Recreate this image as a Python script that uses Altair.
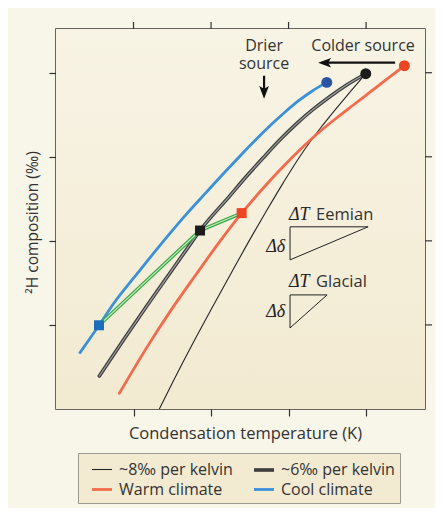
import altair as alt
import pandas as pd

# ---------------- data ----------------
# legend entries (column-major order in the legend grid)
series_names = ["~8‰ per kelvin", "Warm climate", "~6‰ per kelvin", "Cool climate"]
series_colors = ["#262626", "#f26b4c", "#3d3d3d", "#3b91d9"]
series_widths = [1.1, 2.8, 3.6, 2.8]

thin_x = [1.333, 1.520, 1.766, 2.022, 2.259, 2.548, 2.710, 2.929, 3.146, 3.281, 3.412, 3.532, 3.746, 3.996]
thin_y = [0.000, 0.345, 0.782, 1.218, 1.615, 2.092, 2.349, 2.687, 3.004, 3.182, 3.342, 3.480, 3.718, 3.988]
gray_x = [0.559, 0.870, 1.166, 1.468, 1.742, 1.858, 2.234, 2.455, 2.670, 2.889, 3.111, 3.312, 3.535, 3.755, 3.996]
gray_y = [0.393, 0.821, 1.218, 1.615, 1.973, 2.123, 2.527, 2.765, 2.985, 3.202, 3.401, 3.560, 3.718, 3.857, 3.988]
red_x = [0.817, 1.178, 1.486, 1.818, 2.097, 2.395, 2.712, 2.928, 3.160, 3.430, 3.631, 3.840, 4.058, 4.276, 4.494]
red_y = [0.187, 0.742, 1.179, 1.615, 1.973, 2.330, 2.667, 2.881, 3.095, 3.321, 3.470, 3.619, 3.774, 3.929, 4.083]
blue_x = [0.310, 0.555, 0.746, 1.052, 1.400, 1.694, 1.929, 2.146, 2.368, 2.577, 2.774, 2.945, 3.130, 3.311, 3.493]
blue_y = [0.670, 0.996, 1.258, 1.615, 2.012, 2.330, 2.568, 2.786, 3.004, 3.202, 3.381, 3.524, 3.667, 3.786, 3.885]

green_x = [0.555, 1.858, 2.395]
green_y = [0.996, 2.123, 2.330]

dot_x = [3.493, 3.996, 4.494]
dot_y = [3.885, 3.988, 4.083]
dot_c = ["#2b54a6", "#1c1c1c", "#ee4424"]

sq_x = [0.555, 1.858, 2.395]
sq_y = [0.996, 2.123, 2.330]
sq_c = ["#1a6db6", "#1c1c1c", "#ee4424"]

eem_x = [3.019, 4.026, 3.019, 3.019]
eem_y = [2.167, 2.167, 1.774, 2.167]
gla_x = [3.019, 3.497, 3.019, 3.019]
gla_y = [1.357, 1.357, 0.964, 1.357]

center_text = ["Drier", "source", "Colder source"]
center_x = [2.684, 2.684, 3.961]
center_y = [4.322, 4.102, 4.321]
left_text = ["Eemian", "Glacial"]
left_x = [3.355, 3.355]
left_y = [2.31, 1.512]

dt_text = ["ΔT", "ΔT"]
dt_x = [3.006, 3.006]
dt_y = [2.31, 1.512]
dd_text = ["Δδ", "Δδ"]
dd_x = [2.955, 2.955]
dd_y = [1.929, 1.155]

arrow_x = [4.374, 2.684]
arrow_x2 = [3.46, 2.684]
arrow_y = [4.119, 3.964]
arrow_y2 = [4.119, 3.77]
head_x = [3.381, 2.684]
head_y = [4.119, 3.690]
head_shape = ["M0,0L1.6,-0.6L1.25,0L1.6,0.6Z", "M0,0L-0.6,-1.6L0,-1.25L0.6,-1.6Z"]

x_ticks = [1, 2, 3, 4]
y_ticks = [1, 2, 3, 4]
X_DOM = [0, 4.76]
Y_DOM = [0, 4.52]

W, H = 369, 380
FONT = "Open Sans"
TXT = "#333333"
FS = 16.5


def frame(xs, ys, name):
    return pd.DataFrame({"x": xs, "y": ys, "series": name, "order": list(range(len(xs)))})


curves = pd.concat([
    frame(thin_x, thin_y, "~8‰ per kelvin"),
    frame(gray_x, gray_y, "~6‰ per kelvin"),
    frame(red_x, red_y, "Warm climate"),
    frame(blue_x, blue_y, "Cool climate"),
])
green = frame(green_x, green_y, "green")
tris = pd.concat([frame(eem_x, eem_y, "eem"), frame(gla_x, gla_y, "gla")])

xs = alt.Scale(domain=X_DOM, nice=False, zero=False)
ys = alt.Scale(domain=Y_DOM, nice=False, zero=False)
XN = alt.X("x:Q", scale=xs, axis=None)
YN = alt.Y("y:Q", scale=ys, axis=None)

tick_kw = dict(labels=False, ticks=True, tickSize=7, tickColor="#333",
               tickWidth=1.2, domain=False, grid=False)

leg = alt.Legend(title=None, orient="none", legendX=22, legendY=424, columns=2,
                 symbolType="stroke", symbolSize=400, symbolOffset=7, labelOffset=5,
                 labelFont=FONT, labelFontSize=16, labelColor=TXT,
                 fillColor="#f2ead1", strokeColor="#9a9a90", padding=5,
                 rowPadding=0, columnPadding=12, labelLimit=250)

bg = alt.Chart(pd.DataFrame({"a": [0]})).mark_rect(
    color=alt.Gradient(gradient="linear",
                       stops=[alt.GradientStop(color="#f8f4e5", offset=0),
                              alt.GradientStop(color="#f2ead1", offset=1)],
                       x1=0, x2=0, y1=0, y2=1)
).encode(x=alt.value(0), x2=alt.value(W), y=alt.value(0), y2=alt.value(H))

curve_layer = alt.Chart(curves).mark_line(interpolate="monotone", strokeCap="round", clip=True).encode(
    x=alt.X("x:Q", scale=xs, axis=alt.Axis(
        orient="bottom", values=x_ticks, title="Condensation temperature (K)",
        titleFont=FONT, titleFontSize=FS, titleFontWeight="normal",
        titleColor=TXT, titleX=189, titleY=24, titleBaseline="middle", **tick_kw)),
    y=alt.Y("y:Q", scale=ys, axis=alt.Axis(
        orient="left", values=y_ticks, title="²H composition (‰)",
        titleFont=FONT, titleFontSize=15.6, titleFontWeight="normal",
        titleColor=TXT, titleX=-24, titleY=193, titleBaseline="middle", **tick_kw)),
    color=alt.Color("series:N", scale=alt.Scale(domain=series_names, range=series_colors), legend=leg),
    strokeWidth=alt.StrokeWidth("series:N", scale=alt.Scale(type="ordinal", domain=series_names,
                                                            range=series_widths), legend=leg),
    order="order:Q",
    detail="series:N",
)

inner_layer = alt.Chart(frame(gray_x, gray_y, "inner")).mark_line(
    interpolate="monotone", strokeCap="round", color="#a0a0a0", strokeWidth=1.2).encode(
    x=XN, y=YN, order="order:Q")

top_ticks = alt.Chart(pd.DataFrame({"v": x_ticks})).mark_rule(color="#333", strokeWidth=1.2).encode(
    x=alt.X("v:Q", scale=xs, axis=None), y=alt.value(-7), y2=alt.value(0))
right_ticks = alt.Chart(pd.DataFrame({"v": y_ticks})).mark_rule(color="#333", strokeWidth=1.2).encode(
    y=alt.Y("v:Q", scale=ys, axis=None), x=alt.value(W), x2=alt.value(W + 7))

green_outer = alt.Chart(green).mark_line(color="#3aa84a", strokeWidth=3.6).encode(x=XN, y=YN, order="order:Q")
green_inner = alt.Chart(green).mark_line(color="#c3ebbd", strokeWidth=1.1).encode(x=XN, y=YN, order="order:Q")

squares = alt.Chart(pd.DataFrame({"x": sq_x, "y": sq_y, "c": sq_c})).mark_point(
    shape="square", filled=True, size=100, opacity=1, strokeWidth=0).encode(
    x=XN, y=YN, fill=alt.Fill("c:N", scale=None, legend=None))

dots = alt.Chart(pd.DataFrame({"x": dot_x, "y": dot_y, "c": dot_c})).mark_point(
    shape="circle", filled=True, size=120, opacity=1, strokeWidth=0).encode(
    x=XN, y=YN, fill=alt.Fill("c:N", scale=None, legend=None))

tri_layer = alt.Chart(tris).mark_line(color="#222", strokeWidth=1, strokeJoin="miter").encode(
    x=XN, y=YN, order="order:Q", detail="series:N")

sans_c = alt.Chart(pd.DataFrame({"x": center_x, "y": center_y, "t": center_text})).mark_text(
    font=FONT, fontSize=16, color=TXT, baseline="middle", align="center").encode(
    x=XN, y=YN, text="t:N")

sans_l = alt.Chart(pd.DataFrame({"x": left_x, "y": left_y, "t": left_text})).mark_text(
    font=FONT, fontSize=FS, color=TXT, baseline="middle", align="left").encode(
    x=XN, y=YN, text="t:N")

dt = alt.Chart(pd.DataFrame({"x": dt_x, "y": dt_y, "t": dt_text})).mark_text(
    font="Liberation Serif", fontStyle="italic", fontSize=18, color="#222", align="left",
    baseline="middle").encode(x=XN, y=YN, text="t:N")

dd = alt.Chart(pd.DataFrame({"x": dd_x, "y": dd_y, "t": dd_text})).mark_text(
    font="Liberation Serif", fontStyle="italic", fontSize=18, color="#222", align="right",
    baseline="middle").encode(x=XN, y=YN, text="t:N")

shafts = alt.Chart(pd.DataFrame({"x": arrow_x, "x2": arrow_x2, "y": arrow_y, "y2": arrow_y2})).mark_rule(
    color="#111", strokeWidth=2.2).encode(x=XN, x2="x2:Q", y=YN, y2="y2:Q")

heads = alt.Chart(pd.DataFrame({"x": head_x, "y": head_y, "s": head_shape})).mark_point(
    filled=True, size=260, opacity=1, color="#111", strokeWidth=0).encode(
    x=XN, y=YN, shape=alt.Shape("s:N", scale=None, legend=None))

chart = alt.layer(
    bg, curve_layer, inner_layer, top_ticks, right_ticks,
    green_outer, green_inner, squares, dots,
    tri_layer, sans_c, sans_l, dt, dd, shafts, heads
).resolve_axis(x="independent", y="independent").properties(
    width=W, height=H, autosize="none",
    padding={"left": 48, "top": 21, "right": 10, "bottom": 99},
).configure(background="#f8f5e9").configure_view(stroke="#333333", strokeWidth=1.5)

chart.save("out.html", embed_options={"renderer": "svg", "actions": False})
